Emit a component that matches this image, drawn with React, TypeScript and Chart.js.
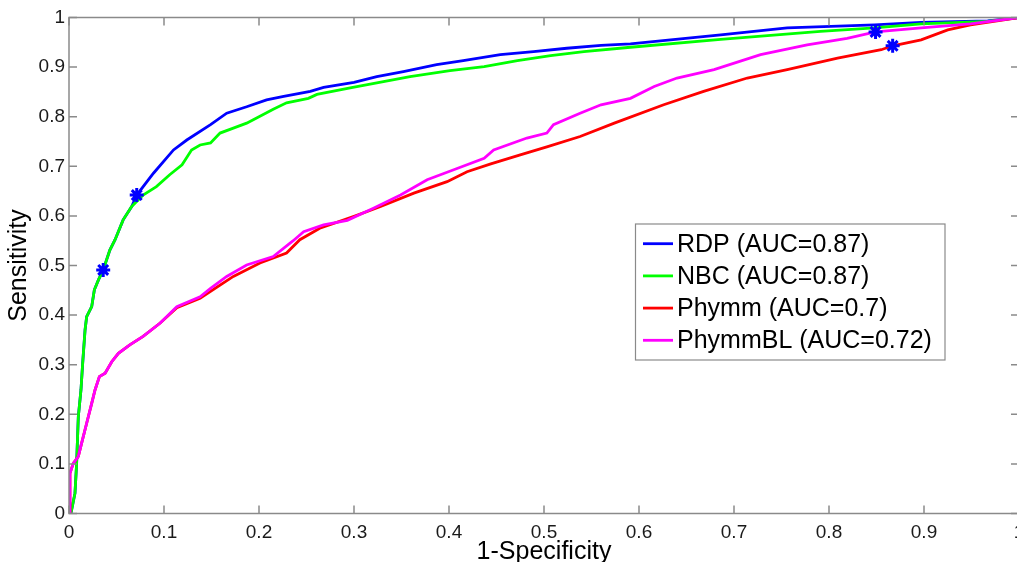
import { useEffect, useRef } from 'react';
import { Chart, registerables } from 'chart.js';

Chart.register(...registerables);

const FONT = '"Liberation Sans", Arial, Helvetica, sans-serif';

const seriesLabels = ['RDP (AUC=0.87)', 'NBC (AUC=0.87)', 'Phymm (AUC=0.7)', 'PhymmBL (AUC=0.72)'];
const seriesColors = ['#0000ff', '#00ff00', '#ff0000', '#ff00ff'];

const rdpX = [0, 0.002, 0.0063, 0.008, 0.0098, 0.0126, 0.0144, 0.0169, 0.0186, 0.0239, 0.0267, 0.031, 0.036, 0.043, 0.0485, 0.057, 0.066, 0.0713, 0.0889, 0.110, 0.124, 0.149, 0.166, 0.187, 0.208, 0.226, 0.254, 0.268, 0.300, 0.324, 0.352, 0.387, 0.415, 0.454, 0.489, 0.524, 0.560, 0.591, 0.686, 0.756, 0.848, 0.897, 0.967, 1];
const rdpY = [0, 0, 0.041, 0.10, 0.195, 0.249, 0.303, 0.37, 0.397, 0.417, 0.451, 0.471, 0.491, 0.531, 0.552, 0.592, 0.619, 0.642, 0.686, 0.733, 0.753, 0.784, 0.807, 0.820, 0.834, 0.841, 0.851, 0.859, 0.869, 0.881, 0.891, 0.905, 0.913, 0.925, 0.931, 0.938, 0.944, 0.947, 0.965, 0.979, 0.985, 0.990, 0.993, 1];

const nbcX = [0, 0.002, 0.0063, 0.008, 0.0098, 0.0126, 0.0144, 0.0169, 0.0186, 0.0239, 0.0267, 0.031, 0.036, 0.043, 0.0485, 0.057, 0.066, 0.078, 0.092, 0.106, 0.119, 0.129, 0.138, 0.149, 0.159, 0.173, 0.187, 0.194, 0.215, 0.229, 0.252, 0.261, 0.296, 0.324, 0.359, 0.401, 0.437, 0.472, 0.507, 0.542, 0.591, 0.686, 0.791, 0.848, 0.897, 0.967, 1];
const nbcY = [0, 0, 0.041, 0.10, 0.195, 0.249, 0.303, 0.37, 0.397, 0.417, 0.451, 0.471, 0.491, 0.531, 0.552, 0.592, 0.619, 0.642, 0.659, 0.683, 0.703, 0.733, 0.743, 0.747, 0.767, 0.777, 0.787, 0.794, 0.815, 0.828, 0.837, 0.845, 0.858, 0.868, 0.881, 0.893, 0.901, 0.913, 0.923, 0.931, 0.940, 0.956, 0.972, 0.979, 0.987, 0.992, 1];

const phymmX = [0, 0.001, 0.0045, 0.0098, 0.0133, 0.0186, 0.0239, 0.0274, 0.032, 0.038, 0.045, 0.052, 0.064, 0.078, 0.096, 0.1135, 0.138, 0.173, 0.201, 0.229, 0.243, 0.264, 0.300, 0.328, 0.363, 0.398, 0.419, 0.444, 0.475, 0.503, 0.538, 0.574, 0.626, 0.668, 0.714, 0.756, 0.809, 0.855, 0.867, 0.897, 0.925, 0.949, 1];
const phymmY = [0, 0.081, 0.101, 0.115, 0.142, 0.182, 0.222, 0.249, 0.276, 0.283, 0.306, 0.323, 0.340, 0.357, 0.384, 0.415, 0.434, 0.478, 0.505, 0.525, 0.552, 0.575, 0.599, 0.619, 0.646, 0.669, 0.689, 0.705, 0.723, 0.739, 0.760, 0.787, 0.824, 0.851, 0.878, 0.895, 0.918, 0.935, 0.943, 0.955, 0.975, 0.985, 1];

const phymmBLX = [0, 0.001, 0.0045, 0.0098, 0.0133, 0.0186, 0.0239, 0.0274, 0.032, 0.038, 0.045, 0.052, 0.064, 0.078, 0.096, 0.1135, 0.138, 0.149, 0.166, 0.187, 0.215, 0.236, 0.247, 0.268, 0.293, 0.321, 0.349, 0.377, 0.405, 0.437, 0.447, 0.482, 0.503, 0.510, 0.538, 0.560, 0.591, 0.616, 0.640, 0.679, 0.728, 0.777, 0.819, 0.849, 0.897, 0.949, 1];
const phymmBLY = [0, 0.081, 0.101, 0.115, 0.142, 0.182, 0.222, 0.249, 0.276, 0.283, 0.306, 0.323, 0.340, 0.357, 0.384, 0.417, 0.437, 0.454, 0.478, 0.501, 0.518, 0.550, 0.568, 0.582, 0.591, 0.616, 0.642, 0.673, 0.693, 0.716, 0.733, 0.757, 0.767, 0.784, 0.807, 0.824, 0.837, 0.861, 0.878, 0.895, 0.925, 0.945, 0.958, 0.971, 0.979, 0.987, 1];

const markerX = [0.036, 0.0713, 0.849, 0.867];
const markerY = [0.491, 0.642, 0.971, 0.943];

const xTickValues = [0, 0.1, 0.2, 0.3, 0.4, 0.5, 0.6, 0.7, 0.8, 0.9, 1];
const xTickLabels = ['0', '0.1', '0.2', '0.3', '0.4', '0.5', '0.6', '0.7', '0.8', '0.9', '1'];
const yTickValues = [0, 0.1, 0.2, 0.3, 0.4, 0.5, 0.6, 0.7, 0.8, 0.9, 1];
const yTickLabels = ['0', '0.1', '0.2', '0.3', '0.4', '0.5', '0.6', '0.7', '0.8', '0.9', '1'];

const xTitle = '1-Specificity';
const yTitle = 'Sensitivity';

const toPoints = (xs: number[], ys: number[]) => xs.map((x, i) => ({ x, y: ys[i] }));

const matlabAxes = {
  id: 'matlabAxes',
  afterDatasetsDraw(chart: any) {
    const { ctx, chartArea: a, scales } = chart;
    ctx.save();
    ctx.strokeStyle = '#8a8a8a';
    ctx.lineWidth = 1.5;
    ctx.strokeRect(a.left, a.top, a.right - a.left, a.bottom - a.top);
    const L = 8;
    ctx.beginPath();
    for (const v of xTickValues) {
      const px = scales.x.getPixelForValue(v);
      ctx.moveTo(px, a.bottom);
      ctx.lineTo(px, a.bottom - L);
      ctx.moveTo(px, a.top);
      ctx.lineTo(px, a.top + L);
    }
    for (const v of yTickValues) {
      const py = scales.y.getPixelForValue(v);
      ctx.moveTo(a.left, py);
      ctx.lineTo(a.left + L, py);
      ctx.moveTo(a.right, py);
      ctx.lineTo(a.right - L, py);
    }
    ctx.stroke();

    // legend (MATLAB style box inside axes)
    const bx = 635.5, by = 224, bw = 309.5, bh = 136;
    ctx.fillStyle = '#ffffff';
    ctx.fillRect(bx, by, bw, bh);
    ctx.strokeStyle = '#8a8a8a';
    ctx.lineWidth = 1.2;
    ctx.strokeRect(bx, by, bw, bh);
    const rowTop = 243.7, rowGap = 32.2;
    ctx.font = `25px ${FONT}`;
    ctx.textBaseline = 'middle';
    ctx.textAlign = 'left';
    chart.data.datasets.slice(0, seriesLabels.length).forEach((ds: any, i: number) => {
      const cy = rowTop + i * rowGap;
      ctx.strokeStyle = ds.borderColor;
      ctx.lineWidth = 2.8;
      ctx.beginPath();
      ctx.moveTo(643, cy);
      ctx.lineTo(673, cy);
      ctx.stroke();
      ctx.fillStyle = '#000000';
      ctx.fillText(ds.label, 677, cy + 1);
    });
    ctx.restore();
  },
};

export default function App() {
  const ref = useRef<HTMLCanvasElement | null>(null);
  useEffect(() => {
    if (!ref.current) return;
    const xsList = [rdpX, nbcX, phymmX, phymmBLX];
    const ysList = [rdpY, nbcY, phymmY, phymmBLY];
    const lineSets = seriesLabels.map((label, i) => ({
      label,
      data: toPoints(xsList[i], ysList[i]),
      borderColor: seriesColors[i],
      backgroundColor: seriesColors[i],
      borderWidth: 2.8,
      showLine: true,
      pointRadius: 0,
      pointHoverRadius: 0,
      tension: 0,
      order: seriesLabels.length - i,
    }));
    const chart = new Chart(ref.current, {
      type: 'scatter',
      data: {
        datasets: [
          ...lineSets,
          {
            label: 'markers',
            data: toPoints(markerX, markerY),
            showLine: false,
            pointStyle: 'star',
            pointRadius: 7,
            borderWidth: 3,
            borderColor: '#0000ff',
            backgroundColor: '#0000ff',
            order: 0,
          } as any,
        ],
      },
      options: {
        animation: false,
        responsive: false,
        layout: { autoPadding: false, padding: { top: 17.5, left: 0, right: 0, bottom: 0 } },
        plugins: { legend: { display: false }, tooltip: { enabled: false } },
        scales: {
          x: {
            type: 'linear',
            position: 'bottom',
            min: 0,
            max: 1,
            grid: { display: false, drawTicks: false },
            border: { display: false },
            afterBuildTicks: (s: any) => { s.ticks = xTickValues.map((v) => ({ value: v })); },
            afterFit: (s: any) => { s.height = 48.5; s.paddingLeft = 0; s.paddingRight = 0; },
            ticks: {
              autoSkip: false,
              maxRotation: 0,
              padding: 8,
              color: '#1a1a1a',
              font: { size: 19, family: FONT },
              callback: (v: any) => { const i = xTickValues.indexOf(Number(v)); return i >= 0 ? xTickLabels[i] : ''; },
            },
            title: {
              display: true,
              text: xTitle,
              color: '#000000',
              font: { size: 25, family: FONT, lineHeight: 1 },
              padding: { top: 0, bottom: -2.5 },
            },
          },
          y: {
            type: 'linear',
            position: 'left',
            min: 0,
            max: 1,
            grid: { display: false, drawTicks: false },
            border: { display: false },
            afterBuildTicks: (s: any) => { s.ticks = yTickValues.map((v) => ({ value: v })); },
            afterFit: (s: any) => { s.width = 69; s.paddingTop = 0; s.paddingBottom = 0; },
            ticks: {
              autoSkip: false,
              padding: 4,
              color: '#1a1a1a',
              font: { size: 19, family: FONT },
              callback: (v: any) => { const i = yTickValues.indexOf(Number(v)); return i >= 0 ? yTickLabels[i] : ''; },
            },
            title: {
              display: true,
              text: yTitle,
              color: '#000000',
              font: { size: 25, family: FONT, lineHeight: 1 },
              padding: { top: 7, bottom: 0 },
            },
          },
        },
      },
      plugins: [matlabAxes],
    } as any);
    return () => chart.destroy();
  }, []);
  return (
    <div style={{ position: 'absolute', left: 0, top: 0, width: 1017, height: 562, overflow: 'hidden', background: '#fff' }}>
      <canvas ref={ref} width={1019} height={562} style={{ display: 'block' }} />
    </div>
  );
}
